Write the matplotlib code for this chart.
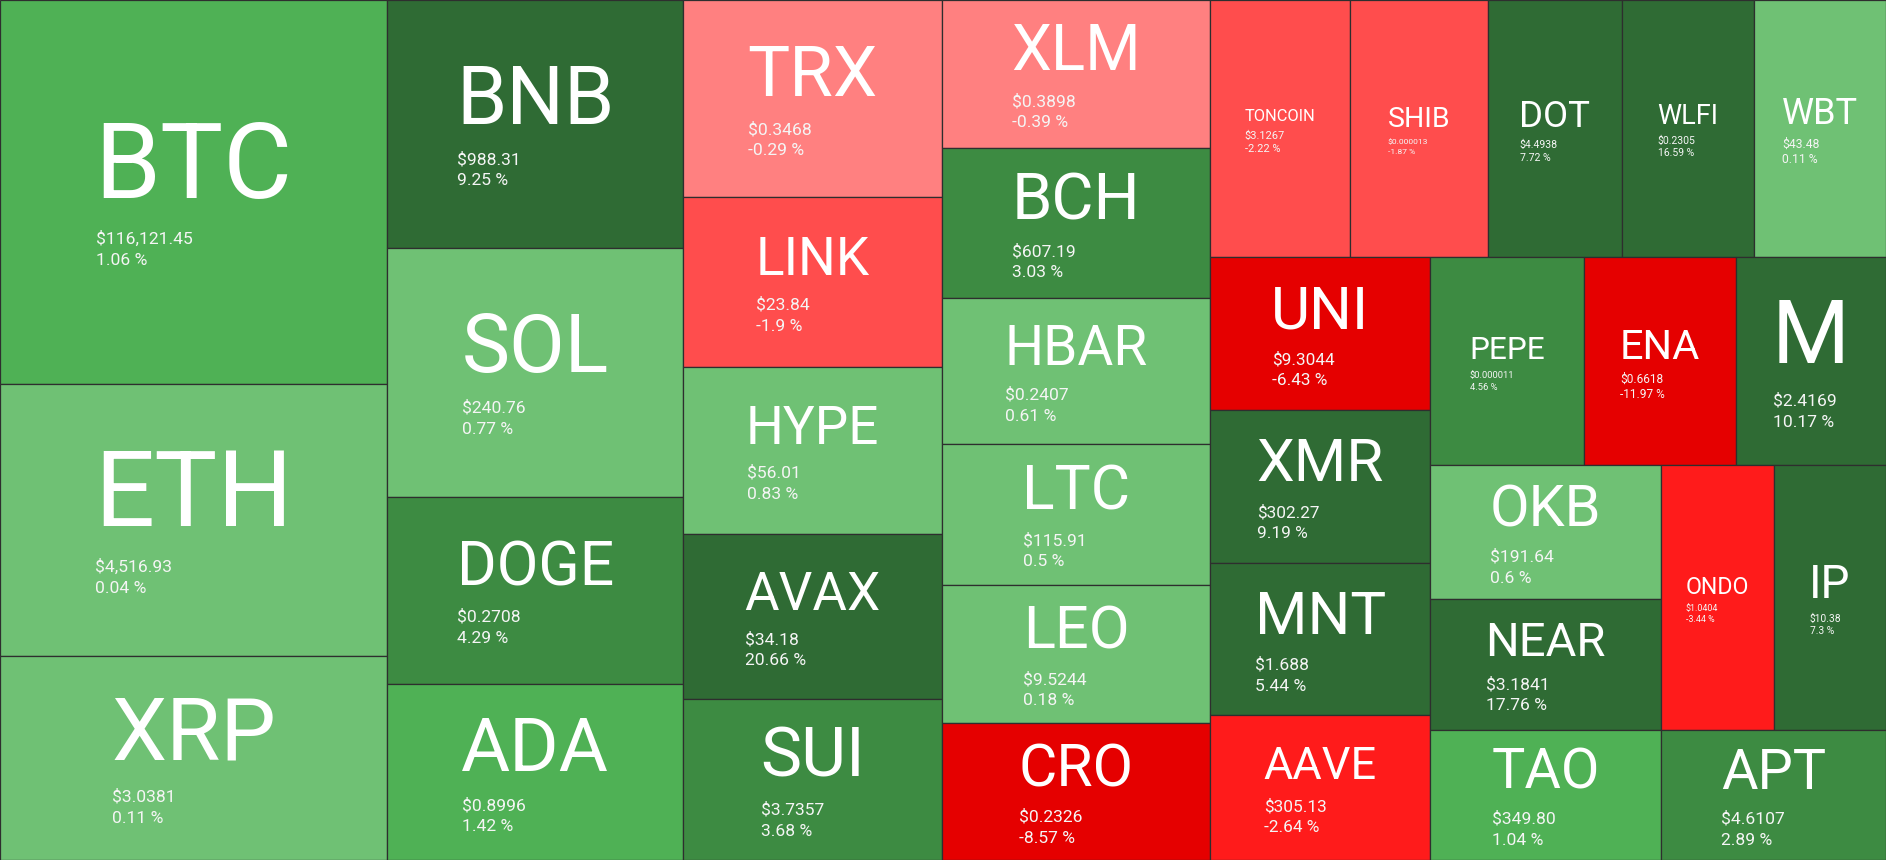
import matplotlib
matplotlib.use('Agg')
import matplotlib.pyplot as plt
from matplotlib.patches import Rectangle

plt.rcParams['font.family'] = ['Roboto', 'DejaVu Sans']

# 数据
symbols = ['BTC', 'ETH', 'XRP', 'BNB', 'SOL', 'DOGE', 'ADA', 'TRX', 'LINK', 'HYPE',
           'AVAX', 'SUI', 'XLM', 'BCH', 'HBAR', 'LTC', 'LEO', 'CRO', 'TONCOIN', 'SHIB',
           'DOT', 'WLFI', 'WBT', 'UNI', 'XMR', 'MNT', 'AAVE', 'PEPE', 'ENA', 'M',
           'OKB', 'NEAR', 'TAO', 'ONDO', 'IP', 'APT']
prices = ['$116,121.45', '$4,516.93', '$3.0381', '$988.31', '$240.76', '$0.2708', '$0.8996',
          '$0.3468', '$23.84', '$56.01', '$34.18', '$3.7357', '$0.3898', '$607.19', '$0.2407',
          '$115.91', '$9.5244', '$0.2326', '$3.1267', '$0.000013', '$4.4938', '$0.2305',
          '$43.48', '$9.3044', '$302.27', '$1.688', '$305.13', '$0.000011', '$0.6618',
          '$2.4169', '$191.64', '$3.1841', '$349.80', '$1.0404', '$10.38', '$4.6107']
changes = [1.06, 0.04, 0.11, 9.25, 0.77, 4.29, 1.42, -0.29, -1.9, 0.83,
           20.66, 3.68, -0.39, 3.03, 0.61, 0.5, 0.18, -8.57, -2.22, -1.87,
           7.72, 16.59, 0.11, -6.43, 9.19, 5.44, -2.64, 4.56, -11.97, 10.17,
           0.6, 17.76, 1.04, -3.44, 7.3, 2.89]
# tile sizes (relative weight)
weights = [102.7, 72.8, 54.7, 50.7, 50.9, 38.4, 35.9, 35.3, 30.3, 29.9,
           29.5, 28.8, 27.4, 27.9, 27.0, 26.1, 25.6, 25.4, 24.8, 24.6,
           23.8, 23.5, 23.5, 23.2, 23.2, 23.2, 22.0, 22.1, 21.8, 21.6,
           21.3, 20.9, 20.7, 20.7, 20.5, 20.2]

W, H = 1886, 860
PHI = (1 + 5 ** 0.5) / 2


def squarify(values, x0, y0, x1, y1, ratio=PHI):
    """squarified treemap (same rule as d3.treemapSquarify)"""
    rects = [None] * len(values)
    total = float(sum(values))
    n = len(values)
    i0 = 0
    while i0 < n:
        dx, dy = x1 - x0, y1 - y0
        s = values[i0]
        vmin = vmax = s
        i1 = i0 + 1
        alpha = max(dy / dx, dx / dy) / (total * ratio)
        beta = s * s * alpha
        best = max(vmax / beta, beta / vmin)
        while i1 < n:
            v = values[i1]
            s2 = s + v
            mn, mx = min(vmin, v), max(vmax, v)
            beta = s2 * s2 * alpha
            r = max(mx / beta, beta / mn)
            if r > best:
                break
            s, vmin, vmax, best = s2, mn, mx, r
            i1 += 1
        if dx < dy:
            yb = y0 + dy * s / total
            x = x0
            for k in range(i0, i1):
                w = dx * values[k] / s
                rects[k] = (x, y0, w, yb - y0)
                x += w
            y0 = yb
        else:
            xb = x0 + dx * s / total
            y = y0
            for k in range(i0, i1):
                h = dy * values[k] / s
                rects[k] = (x0, y, xb - x0, h)
                y += h
            x0 = xb
        total -= s
        i0 = i1
    return rects


def tile_color(c):
    if c >= 5:
        return '#2f6b34'
    if c >= 2.5:
        return '#3d8b42'
    if c >= 1:
        return '#4fb155'
    if c >= 0:
        return '#6fc174'
    if c > -1:
        return '#ff8080'
    if c > -2.5:
        return '#ff4d4d'
    if c > -5:
        return '#ff1b1b'
    return '#e50000'


fig = plt.figure(figsize=(W / 100, H / 100), dpi=100)
ax = fig.add_axes([0, 0, 1, 1])
ax.set_xlim(0, W)
ax.set_ylim(H, 0)
ax.axis('off')
renderer = fig.canvas.get_renderer()

PX = 0.72  # px -> pt

rects = squarify(weights, 0, 0, W, H)
for sym, price, chg, (x, y, w, h) in zip(symbols, prices, changes, rects):
    ax.add_patch(Rectangle((x, y), w, h, facecolor=tile_color(chg),
                           edgecolor='#2e2e2e', linewidth=0.9))
    # font sizes in px
    S = min(0.82 * w / len(sym), 0.43 * h)
    P = min(17.5, max(0.55 * w / len(price), 0.2 * S))
    cx, cy = x + w / 2, y + h / 2
    block = 0.93 * S + 2.5 * P
    ys = cy + 2 - block / 2 + 0.71 * S
    yp = ys + 0.22 * S + 1.3 * P
    yc = yp + 1.2 * P
    t = ax.text(cx, ys, sym, color='white', fontsize=S * PX,
                ha='center', va='baseline')
    sw = t.get_window_extent(renderer).width
    xl = cx - sw / 2 + 0.01 * S
    ax.text(xl, yp, price, color='#f5f5f5', fontsize=P * PX, ha='left', va='baseline')
    ax.text(xl, yc, f'{chg:g} %', color='#f5f5f5', fontsize=P * PX, ha='left', va='baseline')

fig.savefig('out.png', dpi=100)
